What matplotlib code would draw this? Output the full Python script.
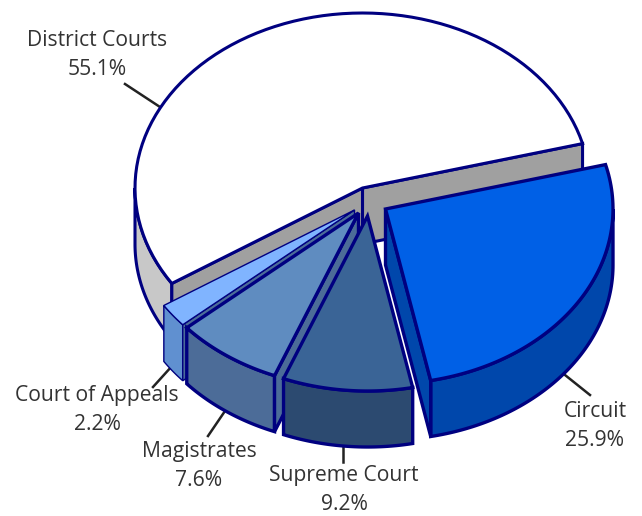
import numpy as np
import matplotlib
matplotlib.use('Agg')
import matplotlib.pyplot as plt
from matplotlib.patches import Polygon

labels = ['District Courts', 'Court of Appeals', 'Magistrates', 'Supreme Court', 'Circuit']
shares = [55.1, 2.2, 7.6, 9.2, 25.9]

# layout of the fake 3d pie, in pixels
cx, cy = 362.5, 188
rx, ry = 227.5, 175
depth = 56
start_angle = 14.7
explode = [(0, 0), (-8, 22), (-4, 25), (5, 28), (23, 21)]

top_colors = ['#ffffff', '#80b4ff', '#5f8cc0', '#3a6496', '#0060e6']
side_colors = ['#c8c8c8', '#6090d0', '#4c6c98', '#2c4a70', '#0047ab']
wall_colors = ['#a0a0a0', '#4c6c98', '#4c6c98', '#2c4a70', '#0047ab']
edge = '#000080'
widths = [2.2, 1.0, 2.4, 2.4, 2.4]

label_pos = [(97, 55), (97, 410), (199, 466), (344, 490), (595, 426)]
leaders = [((125, 84), (160, 107)), ((153, 387), (172, 366)), ((208, 436), (225, 411)),
           ((343, 462), (343, 447)), ((590, 395), (565, 375))]


def arc(t0, t1, dx, dy, dz=0):
    t = np.radians(np.linspace(t0, t1, 80))
    return np.column_stack([cx + dx + rx * np.cos(t), cy + dy + dz - ry * np.sin(t)])


def apex(dx, dy, dz=0):
    return np.array([[cx + dx, cy + dy + dz]])


def draw(ax, pts, color, lw, z):
    ax.add_patch(Polygon(pts, closed=True, facecolor=color, edgecolor=edge, lw=lw,
                         joinstyle='miter', zorder=z))


def wall(ax, t, dx, dy, color, lw, z):
    p = arc(t, t, dx, dy)[:1]
    draw(ax, np.vstack([apex(dx, dy), p, p + [0, depth], apex(dx, dy, depth)]), color, lw, z)


fig = plt.figure(figsize=(6.42, 5.16), dpi=100)
ax = fig.add_axes([0, 0, 1, 1])
ax.set_xlim(0, 642)
ax.set_ylim(516, 0)
ax.axis('off')

angles = start_angle + np.cumsum([0] + shares) * 3.6

for i in range(len(shares)):
    t0, t1 = angles[i], angles[i + 1]
    dx, dy = explode[i]
    z = 2 + i * 3
    lw = widths[i]

    # outer rim, only the part that faces the viewer
    v0, v1 = max(t0, 180), min(t1, 360)
    if v1 > v0:
        draw(ax, np.vstack([arc(v0, v1, dx, dy), arc(v1, v0, dx, dy, depth)]), side_colors[i], lw, z)

    # cut faces
    if i == 0:
        wall(ax, t0, dx, dy, wall_colors[i], lw, z)
        wall(ax, t1, dx, dy, wall_colors[i], lw, z)
    elif labels[i] in ('Court of Appeals', 'Magistrates'):
        wall(ax, t1, dx, dy, wall_colors[i], lw, z)
    elif labels[i] == 'Circuit':
        wall(ax, t0, dx, dy, wall_colors[i], lw, z)

    draw(ax, np.vstack([apex(dx, dy), arc(t0, t1, dx, dy)]), top_colors[i], lw, z + 1)

for name, share, pos, line in zip(labels, shares, label_pos, leaders):
    ax.text(pos[0], pos[1], f'{name}\n{share}%', ha='center', va='center', fontsize=15.2,
            family='Open Sans', color='#333333', linespacing=1.55, zorder=30)
    ax.plot([line[0][0], line[1][0]], [line[0][1], line[1][1]], color='#222222', lw=1.8, zorder=1)

fig.savefig('out.png', dpi=100)
